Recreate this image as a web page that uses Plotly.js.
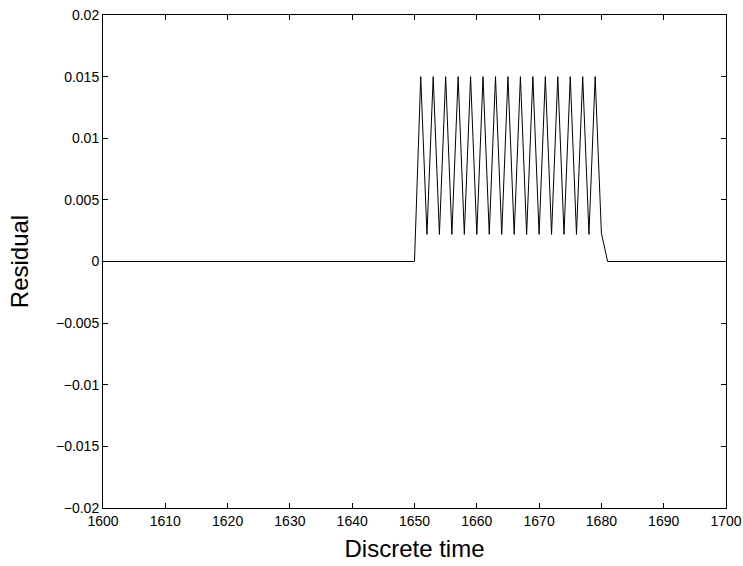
<!DOCTYPE html>
<html><head><meta charset="utf-8">
<script src="https://cdn.plot.ly/plotly-3.0.1.min.js"></script>
<style>html,body{margin:0;padding:0;background:#fff}#c{width:743px;height:566px}</style>
</head><body><div id="c"></div>
<script>
const time = [];
for (let t = 1600; t <= 1700; t++) time.push(t);
const residual = [
  0,0,0,0,0,0,0,0,0,0, 0,0,0,0,0,0,0,0,0,0,
  0,0,0,0,0,0,0,0,0,0, 0,0,0,0,0,0,0,0,0,0,
  0,0,0,0,0,0,0,0,0,0,
  0, // 1650
  0.015,0.0022,0.015,0.0022,0.015,0.0022,0.015,0.0022,0.015,0.0022, // 1651-1660
  0.015,0.0022,0.015,0.0022,0.015,0.0022,0.015,0.0022,0.015,0.0022, // 1661-1670
  0.015,0.0022,0.015,0.0022,0.015,0.0022,0.015,0.0022,0.015,0.0023, // 1671-1680
  0,0,0,0,0,0,0,0,0,0, 0,0,0,0,0,0,0,0,0,0  // 1681-1700
];
const xTicks = [1600,1610,1620,1630,1640,1650,1660,1670,1680,1690,1700];
const yTicks = [-0.02,-0.015,-0.01,-0.005,0,0.005,0.01,0.015,0.02];
const yTickText = ['\u22120.02','\u22120.015','\u22120.01','\u22120.005','0','0.005','0.01','0.015','0.02'];

const font = 'Liberation Sans, Arial, Helvetica, sans-serif';
Plotly.newPlot('c', [{
  x: time, y: residual, type: 'scatter', mode: 'lines',
  line: {color: '#000', width: 1}, hoverinfo: 'none'
}], {
  width: 743, height: 566,
  margin: {l: 103, r: 17, t: 15, b: 58},
  paper_bgcolor: '#fff', plot_bgcolor: '#fff',
  showlegend: false,
  font: {family: font, color: '#000'},
  xaxis: {
    range: [1600, 1700], tickvals: xTicks, ticktext: xTicks.map(String),
    ticks: 'inside', ticklen: 5, tickcolor: '#000', tickwidth: 1,
    showline: true, linecolor: '#000', linewidth: 1, mirror: 'ticks',
    showgrid: false, zeroline: false,
    tickfont: {size: 14, family: font},
    title: {text: 'Discrete time', font: {size: 24, family: font}, standoff: 12}
  },
  yaxis: {
    range: [-0.02, 0.02], tickvals: yTicks, ticktext: yTickText,
    ticks: 'inside', ticklen: 5, tickcolor: '#000', tickwidth: 1,
    showline: true, linecolor: '#000', linewidth: 1, mirror: 'ticks',
    showgrid: false, zeroline: false,
    tickfont: {size: 14, family: font},
    title: {text: 'Residual', font: {size: 24, family: font}, standoff: 20}
  }
}, {staticPlot: true});
</script></body></html>
